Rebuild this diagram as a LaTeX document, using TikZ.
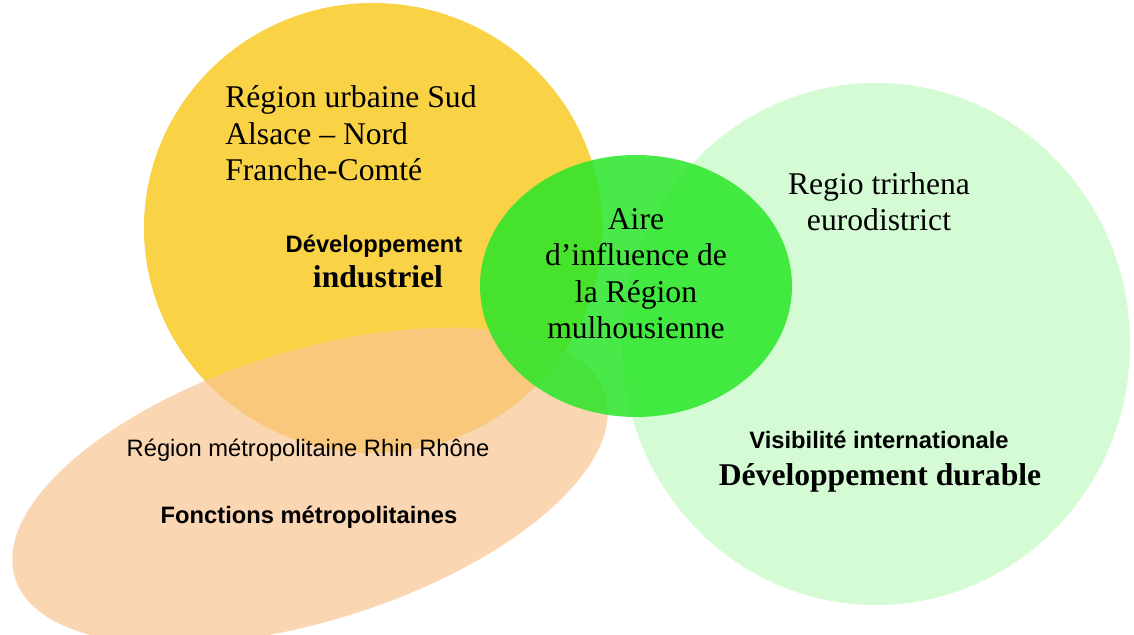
\documentclass[tikz,border=0pt]{standalone}
\usepackage{fontspec}
\setmainfont{Liberation Serif}
\newfontfamily\arialfont{Liberation Sans}
\definecolor{cyellow}{RGB}{250,210,70}
\definecolor{corange}{RGB}{249,196,146}
\definecolor{clight}{RGB}{212,251,212}
\definecolor{cgreen}{RGB}{40,230,40}
\begin{document}
\begin{tikzpicture}[x=0.02cm,y=0.02cm,
  serifline/.style={font=\fontsize{18}{20.7}\selectfont, anchor=base, inner sep=0pt},
  seriflineleft/.style={serifline, anchor=base west},
  seriflinebold/.style={font=\bfseries\fontsize{18}{20.7}\selectfont, anchor=base, inner sep=0pt},
  sansline/.style={font=\arialfont\fontsize{13.5}{16}\selectfont, anchor=base, inner sep=0pt},
  sanslinebold/.style={font=\arialfont\bfseries\fontsize{13.5}{16}\selectfont, anchor=base, inner sep=0pt}]
\useasboundingbox (0,0) rectangle (1134,635);
\fill[white] (0,0) rectangle (1134,635);
% regions
\fill[cyellow] (373,407) ellipse [x radius=229, y radius=225];
\fill[corange, fill opacity=0.69, rotate around={17.3:(310,149)}] (310,149) ellipse [x radius=309, y radius=135];
\fill[clight] (876,291) ellipse [x radius=254, y radius=261];
\fill[cgreen, fill opacity=0.85] (636,349) ellipse [x radius=156, y radius=131];
% texts
\node[seriflineleft] (u1) at (225,527) {Région urbaine Sud};
\node[seriflineleft] (u2) at (225,490) {Alsace – Nord};
\node[seriflineleft] (u3) at (225,454) {Franche-Comté};
\node[sanslinebold] (d1) at (374,382) {Développement};
\node[seriflinebold] (d2) at (378,347) {industriel};
\node[serifline] (a1) at (636,405) {Aire};
\node[serifline] (a2) at (636,369) {d’influence de};
\node[serifline] (a3) at (636,332) {la Région};
\node[serifline] (a4) at (636,296) {mulhousienne};
\node[serifline] (r1) at (879,440) {Regio trirhena};
\node[serifline] (r2) at (879,404) {eurodistrict};
\node[sanslinebold] (v1) at (879,186) {Visibilité internationale};
\node[seriflinebold] (v2) at (880,149) {Développement durable};
\node[sansline] (m1) at (308,178) {Région métropolitaine Rhin Rhône};
\node[sanslinebold] (m2) at (309,111) {Fonctions métropolitaines};
\end{tikzpicture}
\end{document}
